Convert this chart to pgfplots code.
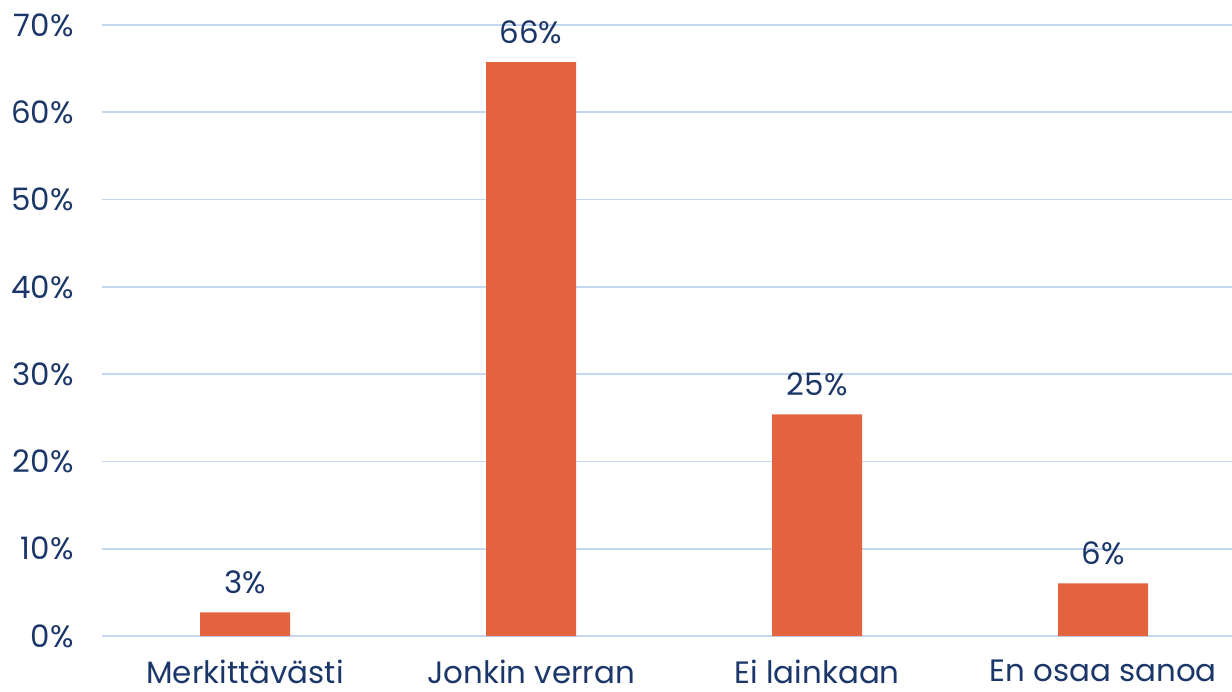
\documentclass[border=0pt]{standalone}
\usepackage{pgfplots}
\pgfplotsset{compat=1.18}
\usepackage{fontspec}
\setmainfont{Poppins}
\definecolor{barc}{HTML}{E4633F}
\definecolor{txt}{HTML}{1B3668}
\definecolor{gridc}{HTML}{C3D7F3}
\begin{document}
\begin{tikzpicture}
\begin{axis}[
  at={(0,0)}, anchor=south west,
  scale only axis,
  width=1130bp, height=611bp,
  xmin=-0.5, xmax=3.45,
  ymin=0, ymax=70,
  axis line style={draw=none},
  ymajorgrids,
  grid style={gridc, line width=1.6bp},
  ytick={0,10,...,70},
  yticklabels={0\%,10\%,20\%,30\%,40\%,50\%,60\%,70\%},
  xtick={0,1,2,3},
  xticklabels={Merkittävästi,Jonkin verran,Ei lainkaan,En osaa sanoa},
  tick style={draw=none},
  every tick label/.append style={font=\fontsize{31}{36}\selectfont, text=txt},
  yticklabel style={xshift=-25bp},
  xticklabel style={yshift=-20bp},
  clip=false,
]
\addplot[ybar, bar width=90bp, fill=barc, draw=none,
  point meta=explicit symbolic,
  nodes near coords,
  every node near coord/.append style={font=\fontsize{31}{36}\selectfont, text=txt, anchor=south, yshift=15bp}]
  coordinates {(0,2.72) [3\%] (1,65.76) [66\%] (2,25.4) [25\%] (3,6.04) [6\%]};
\end{axis}
\pgfresetboundingbox
\path (-102bp,-56bp) rectangle (1130bp,636bp);
\end{tikzpicture}
\end{document}
